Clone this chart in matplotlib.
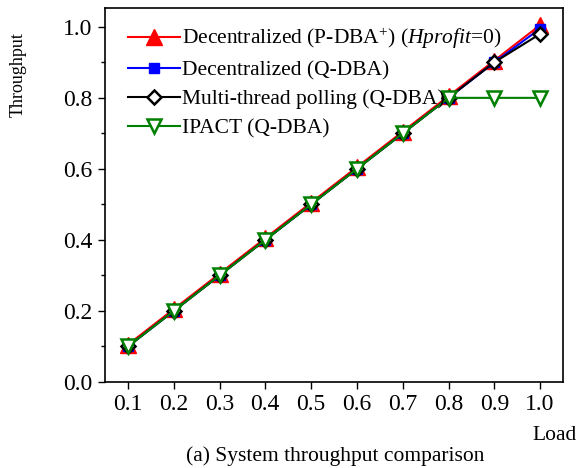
import matplotlib
matplotlib.use("Agg")
from matplotlib import pyplot as plt
from matplotlib.ticker import MultipleLocator

load = [0.1, 0.2, 0.3, 0.4, 0.5, 0.6, 0.7, 0.8, 0.9, 1.0]
pdba = [0.105, 0.205, 0.305, 0.405, 0.505, 0.605, 0.705, 0.805, 0.905, 1.005]
dec_qdba = [0.1, 0.2, 0.3, 0.4, 0.5, 0.6, 0.7, 0.8, 0.9, 0.995]
mt_polling = [0.1, 0.2, 0.3, 0.4, 0.5, 0.6, 0.7, 0.8, 0.9, 0.98]
ipact = [0.1, 0.2, 0.3, 0.4, 0.5, 0.6, 0.7, 0.8, 0.8, 0.8]

plt.rcParams['font.family'] = ['Liberation Serif', 'DejaVu Serif']
plt.rcParams['mathtext.fontset'] = 'custom'
plt.rcParams['mathtext.rm'] = 'Liberation Serif'
plt.rcParams['mathtext.it'] = 'Liberation Serif:italic'

fig = plt.figure(figsize=(5.79, 4.68), dpi=100)
ax = fig.add_axes([105 / 579, 1 - 382 / 468, 458 / 579, 374 / 468])

ax.plot(load, pdba, color='red', marker='^', markersize=11, lw=1.5,
        label='Decentralized (P-DBA$^{+}$) ($\\mathit{Hprofit}$=0)')
ax.plot(load, dec_qdba, color='blue', marker='s', markersize=7, lw=1.5,
        label='Decentralized (Q-DBA)')
ax.plot(load, mt_polling, color='black', marker='D', markersize=7, lw=1.5,
        markerfacecolor='white', markeredgewidth=1.8,
        label='Multi-thread polling (Q-DBA)')
ax.plot(load, ipact, color='green', marker='v', markersize=10, lw=1.5,
        markerfacecolor='white', markeredgewidth=1.8,
        label='IPACT (Q-DBA)')

ax.set_xlim(0.05, 1.05)
ax.set_ylim(0.0, 1.053)
ax.set_xticks(load)
ax.xaxis.set_major_formatter(plt.FormatStrFormatter('%.1f'))
ax.yaxis.set_major_locator(MultipleLocator(0.2))
ax.yaxis.set_minor_locator(MultipleLocator(0.1))
ax.yaxis.set_major_formatter(plt.FormatStrFormatter('%.1f'))
ax.tick_params(axis='both', which='major', labelsize=17, direction='out',
               length=5, width=1, pad=4)
ax.tick_params(axis='y', which='minor', direction='out', length=3, width=1)
for s in ax.spines.values():
    s.set_linewidth(1.2)

ax.legend(loc='upper left', frameon=False, fontsize=15.5, handlelength=2.4,
          handletextpad=0.1, labelspacing=0.42, borderaxespad=0.0,
          bbox_to_anchor=(0.032, 0.975))

fig.text(18 / 579, 1 - 75 / 468, 'Throughput', rotation=90, fontsize=13,
         ha='center', va='center')
fig.text(555 / 579, 1 - 436 / 468, 'Load', fontsize=15.5, ha='center', va='center')
fig.text(335 / 579, 1 - 456 / 468, '(a) System throughput comparison',
         fontsize=15.5, ha='center', va='center')

fig.savefig('out.png', dpi=100)
